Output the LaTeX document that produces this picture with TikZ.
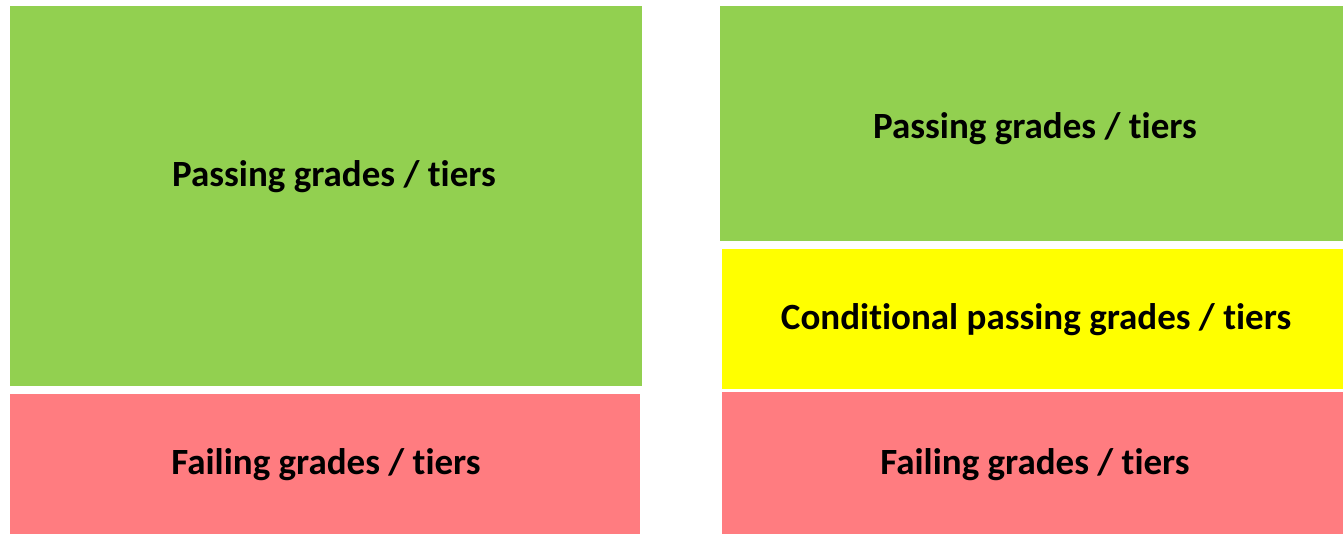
\documentclass[tikz,border=0pt]{standalone}
\usepackage{fontspec}
\setmainfont{Carlito}[Ligatures=NoCommon]
\definecolor{passgreen}{HTML}{92D050}
\definecolor{condyellow}{HTML}{FFFF00}
\definecolor{failred}{HTML}{FF7C80}
\begin{document}
\begin{tikzpicture}[x=1pt,y=-1pt,
  tier/.style={font=\bfseries\fontsize{37}{44}\selectfont, text=black}]
\useasboundingbox[fill=white] (0,0) rectangle (1343,534);
% left column
\fill[passgreen] (10,6) rectangle (642,386);
\node[tier] (lpass) at (334,177) {Passing grades / tiers};
\fill[failred] (10,394) rectangle (640,534);
\node[tier] (lfail) at (326,465) {Failing grades / tiers};
% right column
\fill[passgreen] (720,6) rectangle (1343,241);
\node[tier] (rpass) at (1035,129) {Passing grades / tiers};
\fill[condyellow] (722,249) rectangle (1343,389);
\node[tier] (rcond) at (1036,320) {Conditional passing grades / tiers};
\fill[failred] (722,392) rectangle (1343,534);
\node[tier] (rfail) at (1035,465) {Failing grades / tiers};
\end{tikzpicture}
\end{document}
